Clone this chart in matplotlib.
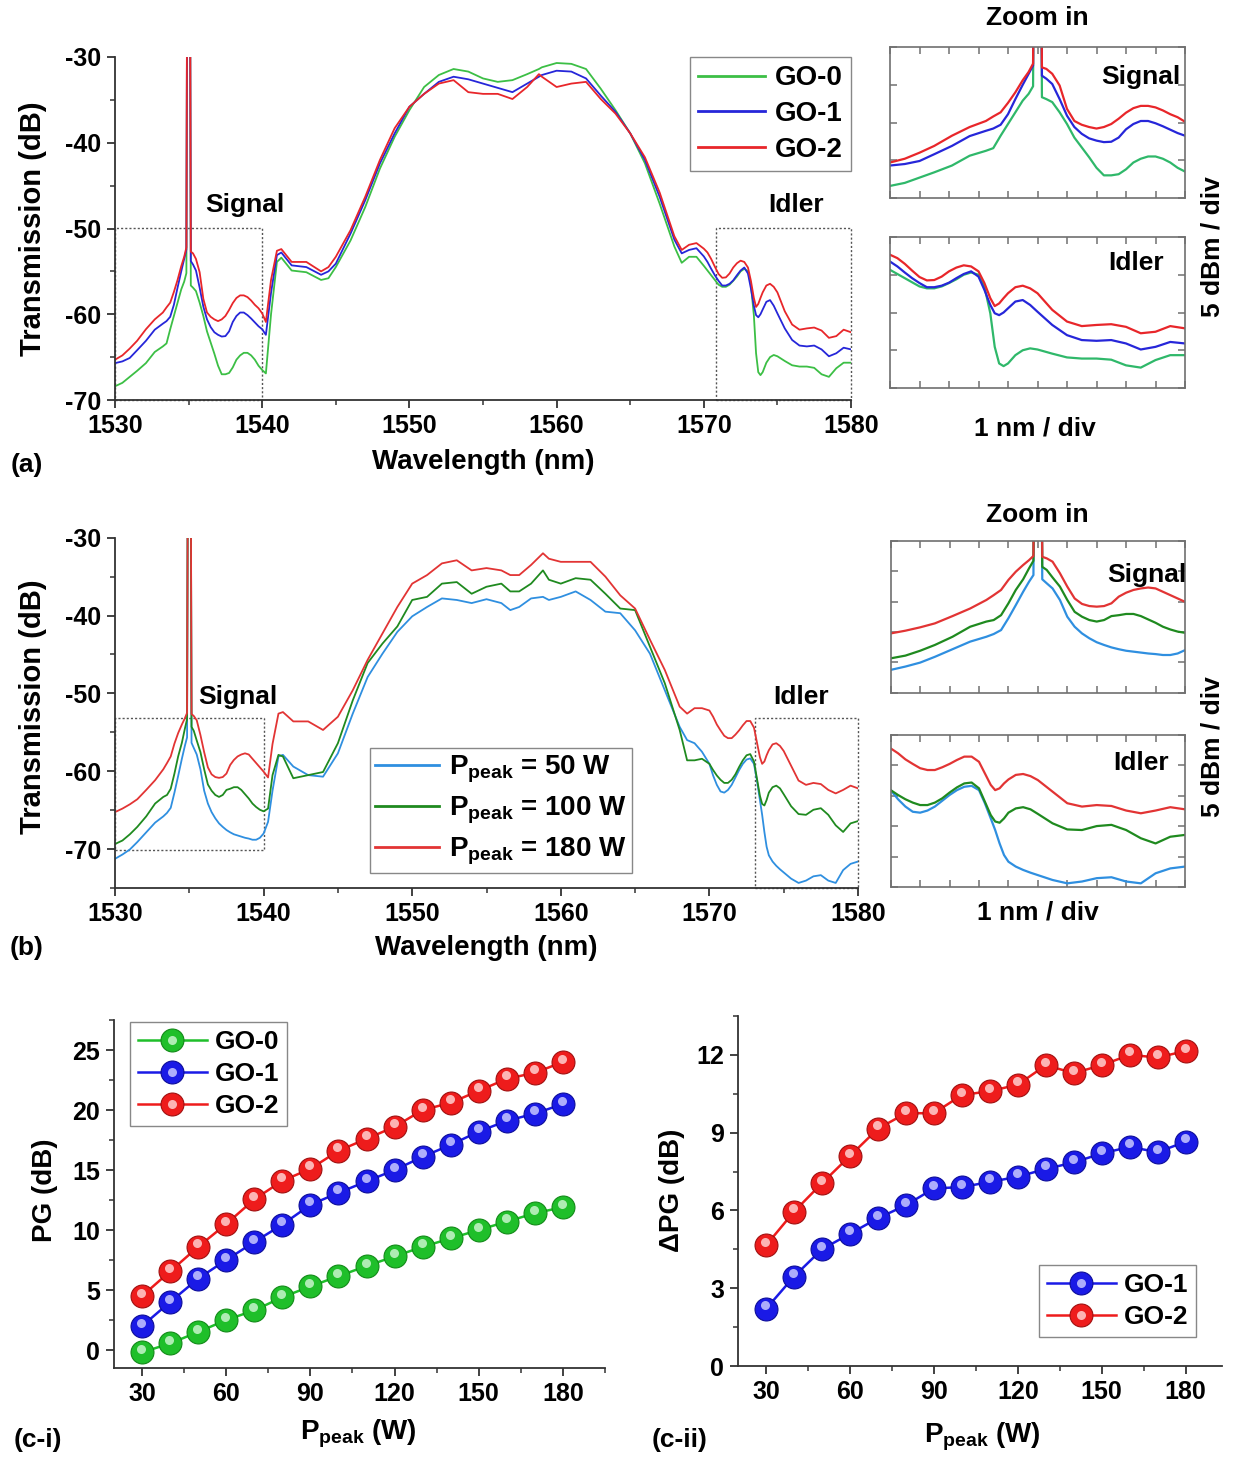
import numpy as np
import matplotlib
matplotlib.use('Agg')
import matplotlib.pyplot as plt
from matplotlib import font_manager
from matplotlib.patches import Rectangle
from matplotlib.ticker import MultipleLocator
from matplotlib.legend_handler import HandlerTuple
import matplotlib.transforms as mtransforms

# ================= data =================
# wavelength grids (nm): signal window, middle part, idler window
wl_sig = [1530, 1530.5, 1531, 1531.5, 1532.1, 1532.7, 1533.25, 1533.5, 1533.75, 1534, 1534.25,
          1534.5, 1534.7, 1534.85, 1534.9, 1535.1, 1535.15, 1535.3, 1535.5, 1535.75, 1536,
          1536.25, 1536.5, 1536.75, 1537, 1537.25, 1537.5, 1537.75, 1538, 1538.25, 1538.5,
          1538.75, 1539, 1539.25, 1539.5, 1539.75, 1540]
wl_idl = [1570, 1570.25, 1570.5, 1570.75, 1571, 1571.25, 1571.5, 1571.75, 1572, 1572.25, 1572.5,
          1572.75, 1573, 1573.2, 1573.4, 1573.55, 1573.7, 1573.85, 1574, 1574.25, 1574.5,
          1574.75, 1575, 1575.5, 1576, 1576.5, 1577, 1577.5, 1578, 1578.5, 1579, 1579.5, 1580]
wl_mid_a = [1540.25, 1540.6, 1541, 1541.3, 1542, 1543, 1544, 1544.5, 1545, 1546, 1547, 1548,
            1549, 1550, 1551, 1552, 1553, 1554, 1555, 1556, 1557, 1558, 1558.8, 1559, 1560,
            1561, 1562, 1563, 1564, 1565, 1566, 1567, 1568, 1568.5, 1569, 1569.5]
wl_mid_b = [1540.3, 1540.6, 1541, 1541.3, 1542, 1543, 1544, 1545, 1546, 1547, 1548, 1549, 1550,
            1551, 1552, 1553, 1554, 1555, 1556, 1556.6, 1557.2, 1558, 1558.8, 1559.2, 1560,
            1561, 1562, 1563, 1564, 1565, 1566, 1567, 1568, 1568.5, 1569, 1569.5]

# ---- panel (a): GO-0 / GO-1 / GO-2 transmission (dB) ----
go0_sig = [-68.4, -68.0, -67.3, -66.6, -65.7, -64.4, -63.75, -63.4, -61.75, -60.2, -58.65, -57.1,
           -56.2, -55.2, -20, -20, -56.65, -56.9, -57.3, -58.65, -60.2, -62.0, -63.3, -64.6,
           -66.0, -67.0, -67.0, -66.85, -66.2, -65.3, -64.8, -64.5, -64.5, -64.8, -65.3, -66.0, -66.5]
go1_sig = [-65.7, -65.5, -65.1, -64.2, -63.1, -61.8, -61.1, -60.8, -60.3, -58.9, -56.9, -55.0,
           -53.55, -52.45, -20, -20, -53.8, -54.2, -54.9, -56.9, -59.1, -60.6, -61.5, -62.1,
           -62.4, -62.6, -62.55, -62.0, -60.9, -60.2, -59.8, -59.8, -60.1, -60.5, -60.95, -61.4, -61.75]
go2_sig = [-65.3, -64.8, -64.0, -63.1, -61.75, -60.6, -59.8, -59.2, -58.65, -57.4, -56.0, -54.4,
           -53.3, -52.2, -20, -20, -52.7, -52.9, -53.55, -55.1, -58.2, -59.8, -60.3, -60.6,
           -60.8, -60.6, -60.2, -59.5, -58.7, -58.1, -57.8, -57.8, -58.0, -58.4, -58.9, -59.3, -59.9]
go0_mid = [-66.9, -60.0, -53.9, -53.4, -54.9, -55.1, -56.0, -55.8, -54.5, -51.4, -47.5, -43.0,
           -39.3, -36.2, -33.5, -32.1, -31.4, -31.7, -32.5, -32.9, -32.7, -32.0, -31.4, -31.2,
           -30.7, -30.8, -31.4, -33.7, -36.2, -38.9, -42.4, -47.1, -52.1, -54.0, -53.3, -53.3]
go1_mid = [-62.4, -57.5, -53.1, -52.8, -54.3, -54.5, -55.4, -55.0, -54.1, -50.6, -46.7, -42.4,
           -38.9, -35.8, -34.3, -32.9, -32.3, -32.6, -33.1, -33.6, -34.1, -33.1, -32.3, -32.1,
           -31.6, -31.7, -32.5, -34.5, -36.4, -38.9, -42.0, -46.3, -51.3, -52.9, -52.5, -52.3]
go2_mid = [-60.9, -56.0, -52.6, -52.4, -53.9, -53.9, -55.0, -54.5, -53.3, -50.2, -46.3, -42.0,
           -38.3, -35.8, -34.3, -33.1, -32.7, -34.1, -34.3, -34.3, -34.9, -33.5, -32.0, -32.3,
           -33.5, -33.1, -32.9, -34.9, -36.6, -38.9, -41.7, -45.8, -50.9, -52.5, -51.9, -51.7]
go0_idl = [-54.35, -54.9, -55.45, -56.0, -56.55, -56.8, -56.8, -56.55, -56.1, -55.6, -55.0, -54.7,
           -55.0, -56.55, -60.1, -64.55, -66.75, -67.1, -66.75, -65.65, -65.0, -64.75, -64.9,
           -65.45, -65.95, -66.1, -66.1, -66.25, -67.0, -67.3, -66.3, -65.65, -65.65]
go1_idl = [-53.25, -53.9, -54.7, -55.45, -56.1, -56.65, -56.65, -56.45, -56.05, -55.45, -54.9,
           -54.55, -55.25, -57.0, -59.0, -60.1, -60.35, -60.0, -59.45, -58.55, -58.35, -59.0,
           -59.9, -61.65, -63.0, -63.65, -63.75, -63.65, -64.1, -64.9, -64.55, -63.9, -64.1]
go2_idl = [-52.35, -52.8, -53.55, -54.45, -55.3, -55.75, -55.7, -55.25, -54.55, -54.05, -53.75,
           -53.9, -54.55, -56.1, -58.1, -59.15, -58.8, -58.1, -57.45, -56.65, -56.45, -56.8,
           -57.45, -59.65, -61.2, -61.8, -61.65, -61.55, -61.9, -62.75, -62.55, -61.8, -62.1]
labels_a = ['GO-0', 'GO-1', 'GO-2']

# ---- panel (b): Ppeak = 50 / 100 / 180 W transmission (dB) ----
p50_sig = [-71.25, -70.7, -70.05, -69.1, -67.85, -66.6, -65.8, -65.35, -64.7, -62.75, -60.6,
           -58.4, -56.75, -55.65, -20, -20, -56.35, -57.0, -57.85, -59.75, -62.5, -64.15, -65.25,
           -66.05, -66.7, -67.15, -67.55, -67.85, -68.1, -68.25, -68.4, -68.55, -68.65, -68.8,
           -68.8, -68.55, -68.0]
p100_sig = [-69.35, -68.9, -68.1, -67.15, -65.8, -64.15, -63.3, -63.05, -62.25, -60.3, -58.1,
            -56.35, -54.55, -53.3, -20, -20, -54.3, -54.8, -56.05, -57.55, -59.75, -61.7, -62.5,
            -63.05, -63.3, -63.05, -62.4, -62.25, -62.05, -62.05, -62.4, -62.95, -63.5, -64.15,
            -64.6, -64.95, -65.15]
p180_sig = [-65.25, -64.8, -64.25, -63.6, -62.4, -61.15, -59.75, -58.95, -58.1, -56.45, -55.1,
            -54.0, -53.2, -52.5, -20, -20, -52.65, -52.9, -53.45, -55.35, -57.55, -59.5, -60.4,
            -60.75, -60.85, -60.75, -60.3, -59.2, -58.55, -58.1, -57.85, -57.7, -57.85, -58.4,
            -58.95, -59.5, -60.05]
p50_mid = [-66.5, -62.5, -58.1, -57.9, -59.4, -60.5, -60.7, -57.7, -52.6, -47.9, -44.9, -42.1,
           -40.1, -38.9, -37.8, -38.0, -38.4, -37.9, -38.4, -39.3, -38.9, -37.8, -37.6, -38.0,
           -37.6, -36.9, -38.0, -39.5, -39.7, -41.9, -44.9, -49.6, -54.3, -56.0, -56.4, -57.5]
p100_mid = [-64.8, -60.5, -57.9, -58.1, -60.9, -60.5, -60.1, -56.4, -50.9, -46.1, -43.6, -41.4,
            -38.0, -37.6, -35.9, -35.7, -37.2, -36.3, -35.9, -36.9, -36.9, -35.9, -34.2, -35.4,
            -35.9, -35.2, -35.4, -37.2, -39.1, -39.3, -44.0, -48.7, -54.7, -58.6, -58.6, -58.4]
p180_mid = [-60.8, -56.5, -52.6, -52.4, -53.6, -53.6, -54.7, -53.0, -49.6, -45.7, -42.3, -38.9,
            -35.9, -34.8, -33.3, -32.9, -34.2, -33.9, -34.2, -34.8, -34.8, -33.5, -32.0, -32.7,
            -33.1, -33.1, -33.1, -35.0, -37.4, -39.1, -43.1, -47.0, -51.7, -52.6, -51.9, -51.9]
p50_idl = [-59.05, -60.55, -61.75, -62.6, -62.75, -62.4, -61.75, -60.8, -59.85, -59.05, -58.5,
           -58.35, -59.05, -61.2, -63.7, -65.6, -67.8, -69.7, -70.8, -71.6, -72.15, -72.6, -73.0,
           -73.8, -74.35, -74.05, -73.5, -73.35, -74.05, -74.35, -72.7, -71.9, -71.6]
p100_idl = [-59.05, -59.85, -60.55, -61.1, -61.5, -61.5, -61.1, -60.4, -59.45, -58.6, -57.95,
            -57.8, -58.75, -60.95, -63.15, -64.2, -64.4, -63.7, -62.75, -62.05, -61.85, -62.2,
            -62.95, -64.5, -65.5, -65.6, -64.95, -64.75, -65.6, -66.95, -67.8, -66.7, -66.4]
p180_idl = [-52.2, -53.0, -54.0, -54.75, -55.45, -55.75, -55.75, -55.3, -54.75, -54.1, -53.55,
            -53.55, -54.4, -56.3, -58.2, -59.05, -58.75, -57.95, -57.3, -56.55, -56.4, -56.75,
            -57.4, -59.3, -61.2, -61.75, -61.5, -61.65, -62.4, -62.85, -62.4, -61.85, -62.2]
labels_b = ['P$_{\\mathregular{peak}}$ = 50 W', 'P$_{\\mathregular{peak}}$ = 100 W',
            'P$_{\\mathregular{peak}}$ = 180 W']

# ---- panel (c) ----
power = [30, 40, 50, 60, 70, 80, 90, 100, 110, 120, 130, 140, 150, 160, 170, 180]
pg_go0 = [-0.2, 0.55, 1.5, 2.5, 3.3, 4.4, 5.3, 6.15, 7.0, 7.8, 8.6, 9.3, 10.0, 10.7, 11.4, 11.9]
pg_go1 = [2.0, 4.0, 5.95, 7.5, 9.0, 10.45, 12.1, 13.1, 14.05, 15.0, 16.1, 17.1, 18.2, 19.1, 19.7, 20.5]
pg_go2 = [4.5, 6.55, 8.6, 10.5, 12.55, 14.1, 15.1, 16.6, 17.6, 18.6, 20.0, 20.6, 21.6, 22.6, 23.1, 24.0]
dpg_go1 = [2.2, 3.45, 4.5, 5.1, 5.7, 6.2, 6.85, 6.9, 7.1, 7.3, 7.6, 7.85, 8.2, 8.45, 8.25, 8.65]
dpg_go2 = [4.65, 5.95, 7.05, 8.1, 9.15, 9.75, 9.75, 10.45, 10.6, 10.85, 11.6, 11.3, 11.6, 12.0, 11.9, 12.15]

# inset windows and dotted boxes (data ranges)
sig_win = (1530, 1540)
idl_win = (1570, 1580)
inset_ylim_a = (-70, -50)
inset_ylim_b = (-75, -50)
sig_box_a = (1530, 1540, -70, -50)
idl_box_a = (1570.8, 1580, -70, -50)
sig_box_b = (1530, 1540, -70.1, -53.1)
idl_box_b = (1573.1, 1580, -75, -53.1)

# assembled series
wl_a = wl_sig + wl_mid_a + wl_idl
wl_b = wl_sig + wl_mid_b + wl_idl
series_a = [go0_sig + go0_mid + go0_idl, go1_sig + go1_mid + go1_idl, go2_sig + go2_mid + go2_idl]
series_b = [p50_sig + p50_mid + p50_idl, p100_sig + p100_mid + p100_idl,
            p180_sig + p180_mid + p180_idl]

# ================= style =================
names = {f.name for f in font_manager.fontManager.ttflist}
main_font = 'Liberation Sans Narrow' if 'Liberation Sans Narrow' in names else 'Liberation Sans'
NARROW = [main_font, 'DejaVu Sans']
REG = ['Liberation Sans', 'DejaVu Sans']
plt.rcParams['font.family'] = NARROW
plt.rcParams['font.weight'] = 'bold'
plt.rcParams['axes.unicode_minus'] = False
plt.rcParams['mathtext.fontset'] = 'custom'
plt.rcParams['mathtext.rm'] = main_font + ':bold'
plt.rcParams['mathtext.it'] = main_font + ':bold'
plt.rcParams['mathtext.bf'] = main_font + ':bold'

cols_a = ['#3cbf45', '#2626d9', '#e8262a']
cols_a_inset = ['#2fb86a', '#2626d9', '#e8262a']
cols_b = ['#2f8fe0', '#1f8a1f', '#e23434']

W, H = 1239, 1458
fig = plt.figure(figsize=(W / 100, H / 100), dpi=100)


def px_axes(l, t, r, b):
    return fig.add_axes([l / W, 1 - b / H, (r - l) / W, (b - t) / H])


def style_main(ax, xmaj, xmin, ymaj, ymin):
    for s in ['top', 'right']:
        ax.spines[s].set_visible(False)
    for s in ['left', 'bottom']:
        ax.spines[s].set_linewidth(1.3)
        ax.spines[s].set_color('#333333')
    ax.xaxis.set_major_locator(MultipleLocator(xmaj))
    ax.xaxis.set_minor_locator(MultipleLocator(xmin))
    ax.yaxis.set_major_locator(MultipleLocator(ymaj))
    ax.yaxis.set_minor_locator(MultipleLocator(ymin))
    ax.tick_params(which='major', direction='out', length=6, width=1.3, color='#333333',
                   labelsize=18, pad=4)
    ax.tick_params(which='minor', direction='out', length=3.5, width=1.1, color='#333333')


def style_inset(ax, xlim, ylim):
    ax.set_xlim(*xlim)
    ax.set_ylim(*ylim)
    for s in ax.spines.values():
        s.set_linewidth(1.2)
        s.set_color('#707070')
    ax.xaxis.set_major_locator(MultipleLocator(1))
    ax.yaxis.set_major_locator(MultipleLocator(5))
    ax.tick_params(which='major', direction='in', length=5, width=1.1, color='#707070',
                   top=True, right=True, labelbottom=False, labelleft=False)


def dotted_box(ax, box):
    x0, x1, y0, y1 = box
    ax.add_patch(Rectangle((x0, y0), x1 - x0, y1 - y0, fill=False, ls=(0, (1.5, 1.5)),
                           lw=1.0, ec='#555555', zorder=1, clip_on=False))


def set_labels(ax, xl, yl, xpos, ypos, xfs=20, yfs=21):
    ax.set_xlabel(xl, fontsize=xfs, fontweight='bold')
    ax.set_ylabel(yl, fontsize=yfs, fontweight='bold', family=REG)
    ax.xaxis.set_label_coords(*xpos)
    ax.yaxis.set_label_coords(*ypos)
    ax.xaxis.label.set_va('center')
    ax.yaxis.label.set_va('center')
    ax.yaxis.label.set_ha('center')


def add_legend(ax, **kw):
    lg = ax.legend(borderaxespad=0, fancybox=False, edgecolor='#888888', framealpha=1, **kw)
    lg.get_frame().set_linewidth(1.0)
    return lg


# ================= panel (a) =================
axa = px_axes(115, 57, 851, 400)
for y, c, lab in zip(series_a, cols_a, labels_a):
    axa.plot(wl_a, y, color=c, lw=1.3, label=lab)
axa.set_xlim(1530, 1580)
axa.set_ylim(-70, -30)
style_main(axa, 10, 5, 10, 5)
dotted_box(axa, sig_box_a)
dotted_box(axa, idl_box_a)
set_labels(axa, 'Wavelength (nm)', 'Transmission (dB)', (0.5, -0.18), (-0.111, 0.5))
axa.text(1538.8, -47.3, 'Signal', fontsize=19, ha='center', va='center')
axa.text(1576.3, -47.3, 'Idler', fontsize=19, ha='center', va='center')
lga = add_legend(axa, loc='upper right', bbox_to_anchor=(1.0, 1.0), fontsize=20,
                 handlelength=2.4, handletextpad=0.35, labelspacing=0.35, borderpad=0.3)
for ln in lga.get_lines():
    ln.set_linewidth(2.0)

ax_as = px_axes(890, 47, 1185, 198)
ax_ai = px_axes(890, 237, 1185, 388)
for y, c in zip(series_a, cols_a_inset):
    ax_as.plot(wl_a, y, color=c, lw=1.6)
    ax_ai.plot(wl_a, y, color=c, lw=1.6)
style_inset(ax_as, sig_win, inset_ylim_a)
style_inset(ax_ai, idl_win, inset_ylim_a)
ax_as.text(0.985, 0.80, 'Signal', transform=ax_as.transAxes, ha='right', va='center',
           fontsize=19, family=REG)
ax_ai.text(0.834, 0.83, 'Idler', transform=ax_ai.transAxes, ha='center', va='center',
           fontsize=19, family=REG)
fig.text(1037 / W, 1 - 18 / H, 'Zoom in', ha='center', va='center', fontsize=19, family=REG)
fig.text(1035 / W, 1 - 428 / H, '1 nm / div', ha='center', va='center', fontsize=19, family=REG)
fig.text(1212 / W, 1 - 247 / H, '5 dBm / div', ha='center', va='center', fontsize=19,
         family=REG, rotation=90)
fig.text(27 / W, 1 - 465 / H, '(a)', ha='center', va='center', fontsize=19, family=REG)

# ================= panel (b) =================
axb = px_axes(115, 537.7, 858, 888)
for y, c, lab in zip(series_b, cols_b, labels_b):
    axb.plot(wl_b, y, color=c, lw=1.3, label=lab)
axb.set_xlim(1530, 1580)
axb.set_ylim(-75, -30)
style_main(axb, 10, 5, 10, 5)
dotted_box(axb, sig_box_b)
dotted_box(axb, idl_box_b)
set_labels(axb, 'Wavelength (nm)', 'Transmission (dB)', (0.5, -0.171), (-0.111, 0.517))
axb.text(1538.3, -50.4, 'Signal', fontsize=19, ha='center', va='center')
axb.text(1576.2, -50.4, 'Idler', fontsize=19, ha='center', va='center')
lgb = add_legend(axb, loc='lower left', bbox_to_anchor=(0.343, 0.043), fontsize=20,
                 handlelength=2.3, handletextpad=0.35, labelspacing=0.35, borderpad=0.2)
for ln in lgb.get_lines():
    ln.set_linewidth(2.0)

ax_bs = px_axes(890.7, 540.7, 1185, 692.7)
ax_bi = px_axes(890.7, 735, 1185, 887.3)
for y, c in zip(series_b, cols_b):
    ax_bs.plot(wl_b, y, color=c, lw=1.6)
    ax_bi.plot(wl_b, y, color=c, lw=1.6)
style_inset(ax_bs, sig_win, inset_ylim_b)
style_inset(ax_bi, idl_win, inset_ylim_b)
ax_bs.text(1.005, 0.775, 'Signal', transform=ax_bs.transAxes, ha='right', va='center',
           fontsize=19, family=REG)
ax_bi.text(0.851, 0.815, 'Idler', transform=ax_bi.transAxes, ha='center', va='center',
           fontsize=19, family=REG)
fig.text(1037 / W, 1 - 515 / H, 'Zoom in', ha='center', va='center', fontsize=19, family=REG)
fig.text(1038 / W, 1 - 912 / H, '1 nm / div', ha='center', va='center', fontsize=19, family=REG)
fig.text(1213 / W, 1 - 747 / H, '5 dBm / div', ha='center', va='center', fontsize=19,
         family=REG, rotation=90)
fig.text(27 / W, 1 - 948 / H, '(b)', ha='center', va='center', fontsize=19, family=REG)


# ================= panel (c) =================
def balls(ax, x, y, color, dark, light, label):
    ln, = ax.plot(x, y, '-', color=color, lw=1.8, marker='o', ms=16.5, mfc=color, mec=dark,
                  mew=0.8, label=label, zorder=3)
    off = mtransforms.offset_copy(ax.transData, fig=fig, x=-1, y=3.5, units='dots')
    hl, = ax.plot(x, y, 'o', ms=6.5, mfc=light, mec='none', alpha=0.85, transform=off, zorder=4)
    return (ln, hl)


ball_green = ('#1fbf2a', '#128a18', '#c8f5cc')
ball_blue = ('#1a1ae6', '#0d0d99', '#c8c8ff')
ball_red = ('#ee1c1c', '#a01010', '#ffd0d0')
tuple_handler = {tuple: HandlerTuple(ndivide=1, pad=0)}

axc1 = px_axes(114, 1020, 605, 1368)
h0 = balls(axc1, power, pg_go0, *ball_green, 'GO-0')
h1 = balls(axc1, power, pg_go1, *ball_blue, 'GO-1')
h2 = balls(axc1, power, pg_go2, *ball_red, 'GO-2')
axc1.set_xlim(20, 195)
axc1.set_ylim(-1.5, 27.5)
style_main(axc1, 30, 15, 5, 2.5)
set_labels(axc1, 'P$_{\\mathregular{peak}}$ (W)', 'PG (dB)', (0.497, -0.19), (-0.14, 0.51),
           xfs=20, yfs=20)
axc1.legend([h0, h1, h2], ['GO-0', 'GO-1', 'GO-2'], handler_map=tuple_handler,
            loc='upper left', bbox_to_anchor=(0.033, 0.994), borderaxespad=0, fancybox=False,
            edgecolor='#888888', fontsize=19, handlelength=2.6, handletextpad=0.3,
            labelspacing=0.3, borderpad=0.3, framealpha=1).get_frame().set_linewidth(1.0)
fig.text(38 / W, 1 - 1440 / H, '(c-i)', ha='center', va='center', fontsize=19, family=REG)

axc2 = px_axes(738, 1016, 1222, 1366)
g1 = balls(axc2, power, dpg_go1, *ball_blue, 'GO-1')
g2 = balls(axc2, power, dpg_go2, *ball_red, 'GO-2')
axc2.set_xlim(20, 193)
axc2.set_ylim(0, 13.5)
style_main(axc2, 30, 15, 3, 1.5)
set_labels(axc2, 'P$_{\\mathregular{peak}}$ (W)', '\u0394PG (dB)', (0.506, -0.203),
           (-0.136, 0.503), xfs=20, yfs=20)
axc2.legend([g1, g2], ['GO-1', 'GO-2'], handler_map=tuple_handler,
            loc='lower right', bbox_to_anchor=(0.946, 0.083), borderaxespad=0, fancybox=False,
            edgecolor='#888888', fontsize=19, handlelength=2.6, handletextpad=0.3,
            labelspacing=0.3, borderpad=0.3, framealpha=1).get_frame().set_linewidth(1.0)
fig.text(680 / W, 1 - 1440 / H, '(c-ii)', ha='center', va='center', fontsize=19, family=REG)

fig.savefig('out.png', dpi=100)
